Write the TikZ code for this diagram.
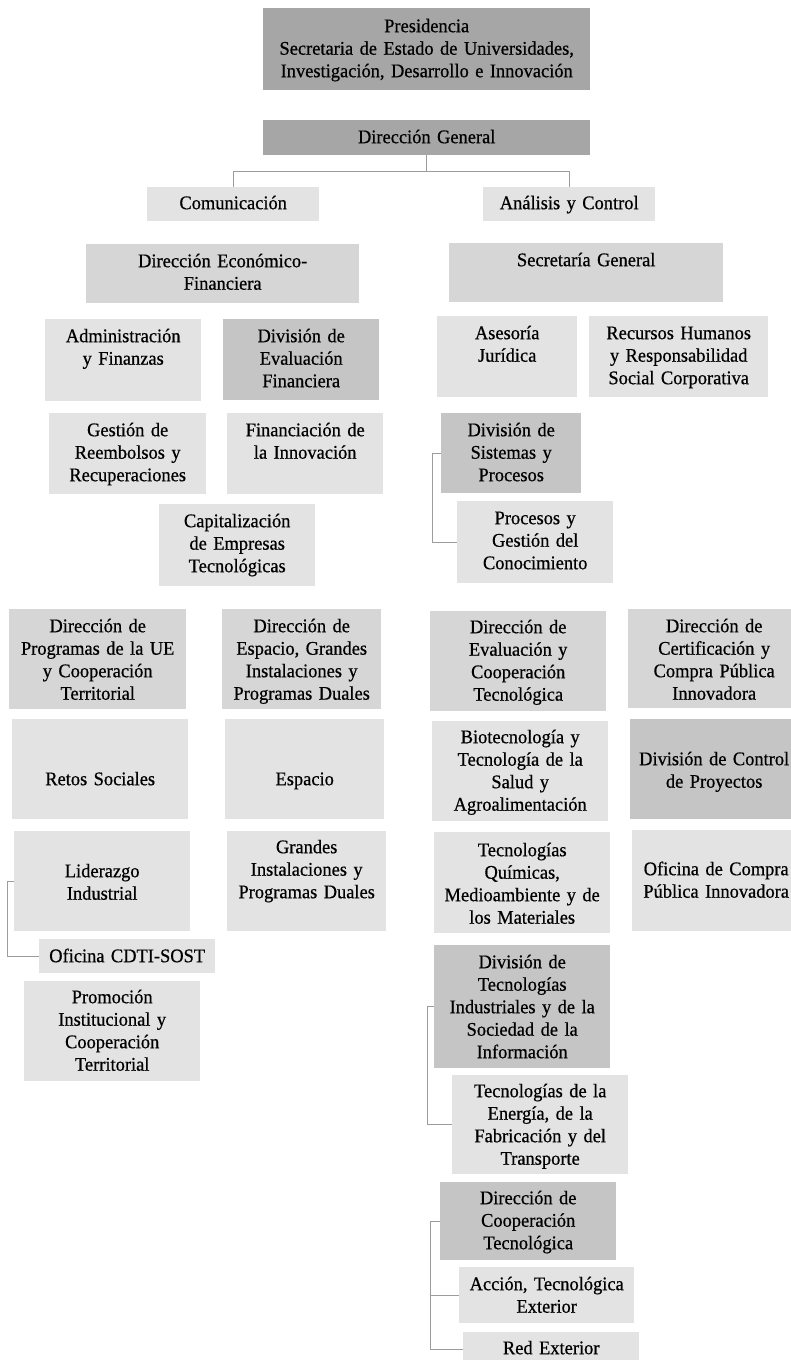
\documentclass[tikz,border=0pt]{standalone}
\usepackage{fontspec}
\setmainfont{Liberation Serif}[FakeBold=0.6,FakeStretch=0.955]
\usepackage{tikz}
\definecolor{OrgTop}{HTML}{A6A6A6}
\definecolor{OrgDir}{HTML}{D6D6D6}
\definecolor{OrgDiv}{HTML}{C5C5C5}
\definecolor{OrgUnit}{HTML}{E3E3E3}
\definecolor{OrgLine}{HTML}{9C9C9C}

\begin{document}
\begin{tikzpicture}[x=1pt,y=-1pt,
  cell/.style={anchor=north west,inner sep=0pt,align=center,
    font=\fontsize{19.3}{22.5}\selectfont,text height=23pt},
  topbox/.style={cell,fill=OrgTop},
  dirbox/.style={cell,fill=OrgDir},
  divbox/.style={cell,fill=OrgDiv},
  unit/.style={cell,fill=OrgUnit},
  link/.style={draw=OrgLine,line width=.9pt}
]
\useasboundingbox (0,0) rectangle (790,1360);

% top of the chart
\node[topbox,text width=327pt,text height=24pt,text depth=58pt] (pres) at (263,8)
  {Presidencia\\Secretaria de Estado de Universidades,\\Investigación, Desarrollo e Innovación};
\node[topbox,text width=327pt,text depth=12pt] (dg) at (263,120) {Dirección General};
\node[unit,text width=172pt,text height=22pt,text depth=12pt] (com) at (147,187) {Comunicación};
\node[unit,text width=172pt,text height=22pt,text depth=12pt] (anal) at (483,187) {Análisis y Control};
\draw[link] (dg.south) -- ++(0,16) -| (com.north);
\draw[link] (dg.south) -- ++(0,16) -| (anal.north);

% economic-financial branch
\node[dirbox,text width=273pt,text depth=36pt] (dirfin) at (86,244) {Dirección Económico-\\Financiera};
\node[unit,text width=156pt,text depth=59pt] (admin) at (45,319) {Administración\\y Finanzas};
\node[divbox,text width=156pt,text depth=58pt] (divevfin) at (223,319) {División de\\Evaluación\\Financiera};
\node[unit,text width=157pt,text depth=58pt] (reemb) at (49,413) {Gestión de\\Reembolsos y\\Recuperaciones};
\node[unit,text width=156pt,text depth=58pt] (finan) at (227,413) {Financiación de\\la Innovación};
\node[unit,text width=156pt,text depth=59pt] (capital) at (159,504) {Capitalización\\de Empresas\\Tecnológicas};

% general secretariat
\node[dirbox,text width=274pt,text depth=36pt] (secgen) at (449,243) {Secretaría General};
\node[unit,text width=140pt,text depth=58pt] (asesoria) at (437,316) {Asesoría\\Jurídica};
\node[unit,text width=179pt,text depth=58pt] (rrhh) at (589,316) {Recursos Humanos\\y Responsabilidad\\Social Corporativa};
\node[divbox,text width=140pt,text depth=57pt] (divsis) at (441,413) {División de\\Sistemas y\\Procesos};
\node[unit,text width=156pt,text depth=59pt] (procesos) at (457,501) {Procesos y\\Gestión del\\Conocimiento};
\draw[link] (divsis.west) -- ++(-9,0) |- (procesos.west);

% EU programmes
\node[dirbox,text width=177pt,text depth=77pt] (dirue) at (9,609)
  {Dirección de\\Programas de la UE\\y Cooperación\\Territorial};
\node[unit,text width=176pt,text height=66pt,text depth=34pt] (retos) at (12,719) {Retos Sociales};
\node[unit,text width=176pt,text height=46pt,text depth=54pt] (lider) at (14,831) {Liderazgo\\Industrial};
\node[unit,text width=176pt,text depth=11pt] (sost) at (39,939) {Oficina CDTI-SOST};
\node[unit,text width=176pt,text height=22pt,text depth=78pt] (promo) at (24,981)
  {Promoción\\Institucional y\\Cooperación\\Territorial};
\draw[link] (lider.west) -- ++(-7,0) |- (sost.west);

% space and large facilities
\node[dirbox,text width=159pt,text depth=77pt] (diresp) at (222,609)
  {Dirección de\\Espacio, Grandes\\Instalaciones y\\Programas Duales};
\node[unit,text width=159pt,text height=66pt,text depth=34pt] (espacio) at (225,719) {Espacio};
\node[unit,text width=159pt,text height=22pt,text depth=78pt] (grandes) at (227,831)
  {Grandes\\Instalaciones y\\Programas Duales};

% evaluation and technological cooperation
\node[dirbox,text width=176pt,text height=22pt,text depth=78pt] (direval) at (430,611)
  {Dirección de\\Evaluación y\\Cooperación\\Tecnológica};
\node[unit,text width=176pt,text height=22pt,text depth=78pt] (biotec) at (432,721)
  {Biotecnología y\\Tecnología de la\\Salud y\\Agroalimentación};
\node[unit,text width=176pt,text height=24pt,text depth=77pt] (quimicas) at (434,832)
  {Tecnologías\\Químicas,\\Medioambiente y de\\los Materiales};
\node[divbox,text width=176pt,text depth=100pt] (divtind) at (434,945)
  {División de\\Tecnologías\\Industriales y de la\\Sociedad de la\\Información};
\node[unit,text width=176pt,text height=22pt,text depth=77pt] (energia) at (452,1075)
  {Tecnologías de la\\Energía, de la\\Fabricación y del\\Transporte};
\draw[link] (divtind.west) -- ++(-7,0) |- (energia.west);
\node[divbox,text width=176pt,text height=22pt,text depth=56pt] (dircoop) at (440,1182)
  {Dirección de\\Cooperación\\Tecnológica};
\node[unit,text width=175pt,text depth=33pt] (accion) at (459,1267) {Acción, Tecnológica\\Exterior};
\node[unit,text width=176pt,text height=22pt,text depth=12pt] (red) at (463,1332) {Red Exterior};
\draw[link] (dircoop.west) -- ++(-10,0) |- (accion.west);
\draw[link] (dircoop.west) -- ++(-10,0) |- (red.west);

% certification and public procurement
\node[dirbox,text width=172pt,text depth=76pt] (dircert) at (628,609)
  {Dirección de\\Certificación y\\Compra Pública\\Innovadora};
\node[divbox,text width=168pt,text height=46pt,text depth=54pt] (divctrl) at (630,719)
  {División de Control\\de Proyectos};
\node[unit,text width=168pt,text height=45pt,text depth=56pt] (ofcompra) at (632,830)
  {Oficina de Compra\\Pública Innovadora};
\end{tikzpicture}
\end{document}
